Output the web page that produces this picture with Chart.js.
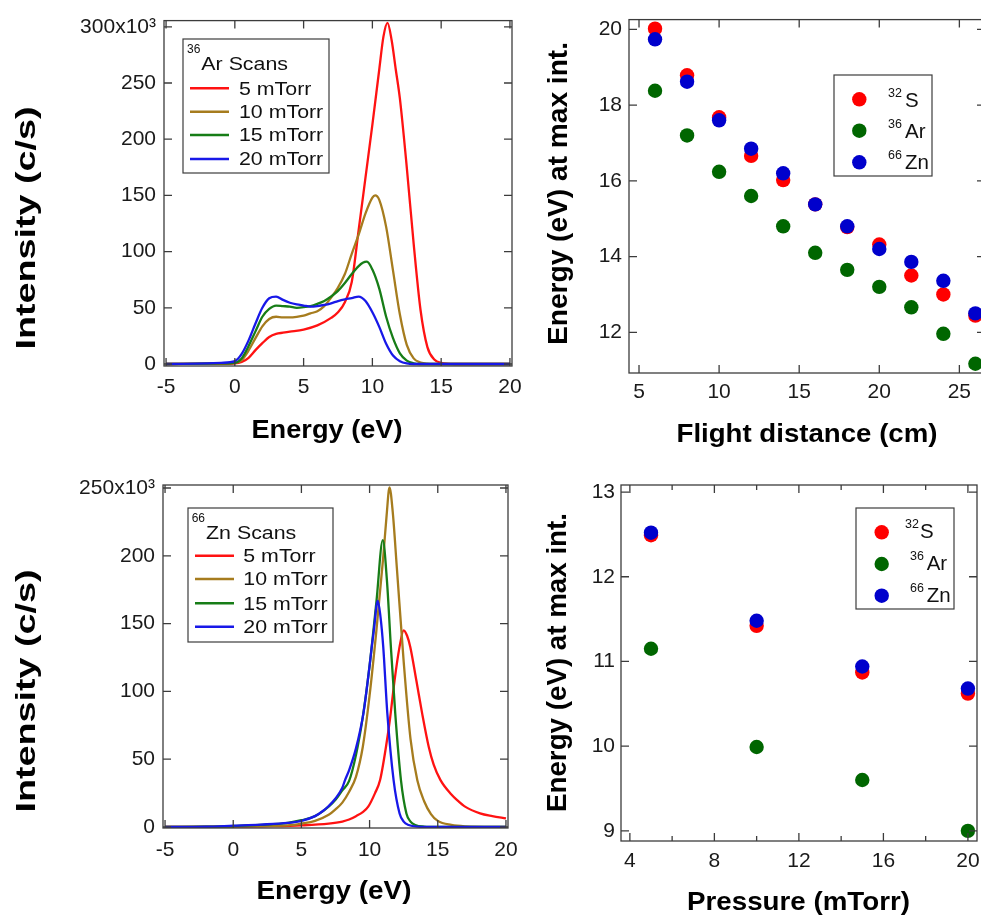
<!DOCTYPE html>
<html><head><meta charset="utf-8">
<script src="https://cdn.jsdelivr.net/npm/chart.js@4.4.1/dist/chart.umd.min.js"></script>
<style>
html,body{margin:0;padding:0;background:#fff;overflow:hidden;width:981px;height:918px;position:relative;}
canvas{position:absolute;left:0;top:0;}
</style></head><body>
<canvas id="cTL" width="1000" height="918"></canvas>
<canvas id="cTR" width="1000" height="918"></canvas>
<canvas id="cBL" width="1000" height="918"></canvas>
<canvas id="cBR" width="1000" height="918"></canvas>
<script>
// ---------------- DATA ----------------
const energyTicks = [-5, 0, 5, 10, 15, 20];
const arIntensityTicks = [0, 50, 100, 150, 200, 250, 300];
const znIntensityTicks = [0, 50, 100, 150, 200, 250];
const distanceTicks = [5, 10, 15, 20, 25];
const distEnergyTicks = [12, 14, 16, 18, 20];
const pressureTicks = [4, 8, 12, 16, 20];
const pressureMinorTicks = [6, 10, 14, 18];
const pressEnergyTicks = [9, 10, 11, 12, 13];

const pressureLabels = ['5 mTorr', '10 mTorr', '15 mTorr', '20 mTorr'];
const isotopeMass = ['32', '36', '66'];
const isotopeName = ['S', 'Ar', 'Zn'];

// 36Ar scans: energy (eV) and intensity (10^3 c/s)
const ar5E  = [-5, -1, 0, 0.5, 1, 1.5, 2, 2.5, 3, 3.5, 4, 5, 6, 7, 7.5, 8, 8.5, 9, 9.5, 10, 10.5, 10.8, 11.1, 11.4, 11.7, 12, 12.5, 13, 13.5, 14, 14.5, 15, 16, 20];
const ar5I  = [0, 0.2, 0.5, 1.8, 5.5, 12.3, 18.5, 24, 26.8, 27.8, 28.7, 30.6, 34.3, 41, 46, 55, 73, 119, 166, 213, 262, 291, 303.5, 288, 262, 236, 175, 107, 48, 15, 4, 1, 0, 0];
const ar10E = [-5, -1, 0, 0.5, 1, 1.5, 2, 2.5, 3, 3.5, 4, 4.5, 5, 5.5, 6, 6.5, 7, 7.5, 8, 8.5, 9, 9.5, 10, 10.2, 10.5, 11, 11.5, 12, 12.5, 13, 13.5, 14, 15, 20];
const ar10I = [0, 0.3, 1, 3.5, 12, 23, 33.5, 40, 42, 41.5, 41.5, 42, 43, 45, 47, 51.5, 59, 68, 80, 98, 115, 134, 148, 150, 146, 122, 83, 44, 17, 5, 1.3, 0.3, 0, 0];
const ar15E = [-5, -1, 0, 0.5, 1, 1.5, 2, 2.5, 3, 3.5, 4, 4.5, 5, 5.5, 6, 6.5, 7, 7.5, 8, 8.5, 9, 9.3, 9.6, 10, 10.5, 11, 11.5, 12, 12.5, 13, 13.5, 20];
const ar15I = [0, 0.5, 1, 5, 16, 29, 42, 49, 52, 51.5, 51, 50, 50.5, 51.5, 53.5, 56, 60, 65, 72, 80, 87, 90, 91, 84, 67, 42, 23, 9.5, 3, 0.6, 0, 0];
const ar20E = [-5, -2, -1, 0, 0.5, 1, 1.5, 2, 2.5, 3, 3.5, 4, 4.5, 5, 5.5, 6, 6.5, 7, 7.5, 8, 8.5, 9, 9.5, 10, 10.5, 11, 11.5, 12, 12.5, 13, 20];
const ar20I = [0, 0.5, 1, 2.5, 9, 21, 36, 50, 58.5, 60, 57, 54.5, 53, 52, 51, 51.5, 52.5, 54, 56, 57.5, 58.6, 60, 56, 46, 33, 18, 7.5, 2.5, 0.5, 0, 0];

// 66Zn scans: energy (eV) and intensity (10^3 c/s)
const zn5E  = [-5, 0, 3, 5, 7, 8, 8.5, 9, 9.5, 9.9, 10.4, 10.77, 11.2, 11.5, 11.83, 12.2, 12.5, 12.75, 12.98, 13.43, 13.85, 14.34, 14.7, 15.2, 16, 16.4, 17, 18.1, 19, 20];
const zn5I  = [0, 0.3, 0.6, 1.2, 2.5, 4, 5.5, 8, 11, 15, 25, 34.6, 59, 80, 108, 133, 145, 141, 133, 108, 84, 59, 46, 34.6, 24, 20, 15, 10, 8, 6.4];
const zn10E = [-5, 0, 2, 4, 5, 6, 7, 7.5, 8, 8.5, 9, 9.5, 10, 10.5, 11, 11.25, 11.46, 11.7, 12, 12.5, 13, 13.5, 14, 14.5, 15, 16, 17, 20];
const zn10I = [0, 0.3, 0.7, 1.2, 2.5, 4.5, 9, 13, 18, 26, 37, 59, 97, 145, 199, 230, 250.4, 232, 191, 122, 65, 34.5, 19, 9.5, 4.5, 1.5, 0.5, 0];
const zn15E = [-5, -2, 0, 2, 4, 5, 6, 7, 7.5, 8, 8.5, 9, 9.5, 10, 10.5, 10.97, 11.27, 11.56, 11.88, 12.3, 12.7, 13, 13.35, 14, 15, 20];
const zn15I = [0, 0.3, 0.7, 1.5, 3, 5, 8, 15, 20, 27, 34, 53, 81, 119, 166, 211.5, 182, 133, 84, 34.6, 10, 4, 1.5, 0.3, 0, 0];
const zn20E = [-5, -2, 0, 2, 4, 5, 6, 6.6, 7, 7.5, 8, 8.2, 8.5, 9, 9.55, 10, 10.16, 10.3, 10.6, 10.8, 11.0, 11.3, 11.76, 12.2, 12.5, 12.86, 13.5, 15, 20];
const zn20I = [0, 0.2, 1, 1.8, 3, 4.5, 8, 12, 15.5, 21, 29, 34.6, 42, 58, 84, 119, 133, 144, 167, 155, 133, 84, 34.6, 10, 4, 1.5, 0.3, 0, 0];

// Energy at max intensity vs flight distance (cm)
const flightDistance = [6, 8, 10, 12, 14, 16, 18, 20, 22, 24, 26];
const distS  = [20.02, 18.79, 17.68, 16.66, 16.02, 15.38, 14.78, 14.32, 13.5, 13.0, 12.44];
const distAr = [18.38, 17.2, 16.24, 15.6, 14.8, 14.1, 13.65, 13.2, 12.66, 11.96, 11.17];
const distZn = [19.74, 18.62, 17.6, 16.85, 16.2, 15.38, 14.8, 14.2, 13.86, 13.36, 12.5];

// Energy at max intensity vs pressure (mTorr)
const pressure = [5, 10, 15, 20];
const pressS  = [12.49, 11.42, 10.87, 10.62];
const pressAr = [11.15, 9.99, 9.6, 9.0];
const pressZn = [12.52, 11.48, 10.94, 10.68];

// ---------------- STYLE / HELPERS ----------------
const FONT = "'Liberation Sans', Arial, Helvetica, sans-serif";
const CW = 1000, CH = 918;
const lineColors = ['#ff1212', '#a67c1e', '#177d17', '#1818e8'];
const dotColors = ['#ff0000', '#006600', '#0000cc'];
const DOT_R = 7.2;

function drawStr(ctx, str, x, y, o) {
  ctx.save();
  ctx.translate(x, y);
  if (o.rot) ctx.rotate(o.rot);
  ctx.font = (o.bold ? 'bold ' : '') + o.size + 'px ' + FONT;
  const w = ctx.measureText(str).width;
  let sx = o.sx || 1;
  if (o.len) sx = o.len / w;
  ctx.scale(sx, 1);
  ctx.textAlign = o.align || 'left';
  ctx.textBaseline = o.baseline || 'alphabetic';
  ctx.fillStyle = o.color || '#111';
  ctx.fillText(str, 0, 0);
  ctx.restore();
  return w * sx;
}

function lineSets(pairs) {
  return pairs.map(([e, v], i) => ({
    label: pressureLabels[i],
    data: e.map((x, k) => ({x: x, y: v[k]})),
    borderColor: lineColors[i], backgroundColor: lineColors[i],
    borderWidth: 2.3, pointRadius: 0, fill: false,
    cubicInterpolationMode: 'monotone', order: 3 - i
  }));
}
function dotSets(xs, series) {
  return series.map((v, i) => ({
    label: isotopeName[i],
    data: xs.map((x, k) => ({x: x, y: v[k]})),
    backgroundColor: dotColors[i], borderColor: dotColors[i], borderWidth: 0,
    pointRadius: DOT_R, pointHoverRadius: DOT_R, order: 2 - i
  }));
}

const framePlugin = {
  id: 'frame',
  afterDatasetsDraw(chart, args, o) {
    const {ctx, chartArea: a, scales} = chart;
    const x = scales.x, y = scales.y;
    ctx.save();
    ctx.strokeStyle = '#3c3c3c';
    ctx.lineWidth = 1.3;
    ctx.strokeRect(a.left, a.top, a.right - a.left, a.bottom - a.top);
    ctx.beginPath();
    const L = 8, Lm = 5;
    const vx = (v, len) => { const p = x.getPixelForValue(v); ctx.moveTo(p, a.bottom); ctx.lineTo(p, a.bottom - len); ctx.moveTo(p, a.top); ctx.lineTo(p, a.top + len); };
    const vy = (v, len) => { const p = y.getPixelForValue(v); ctx.moveTo(a.left, p); ctx.lineTo(a.left + len, p); ctx.moveTo(a.right, p); ctx.lineTo(a.right - len, p); };
    x.ticks.forEach(t => vx(t.value, L));
    (o.xMinor || []).forEach(v => vx(v, Lm));
    y.ticks.forEach(t => vy(t.value, L));
    ctx.stroke();
    ctx.restore();
  }
};

const legendPlugin = {
  id: 'boxLegend',
  afterDatasetsDraw(chart, args, o) {
    const ctx = chart.ctx;
    ctx.save();
    const [bx0, by0, bx1, by1] = o.box;
    ctx.fillStyle = '#fff';
    ctx.fillRect(bx0, by0, bx1 - bx0, by1 - by0);
    ctx.strokeStyle = '#3c3c3c';
    ctx.lineWidth = 1.2;
    ctx.strokeRect(bx0, by0, bx1 - bx0, by1 - by0);
    if (o.kind === 'line') {
      const w = drawStr(ctx, o.titleSup, o.titleX, o.titleY - 17, {size: 12});
      drawStr(ctx, o.titleMain, o.titleX + w + 1, o.titleY, {size: 17.5, sx: 1.22});
      chart.data.datasets.forEach((d, i) => {
        const cy = o.rowY[i];
        ctx.strokeStyle = d.borderColor;
        ctx.lineWidth = 2.5;
        ctx.beginPath(); ctx.moveTo(o.lineX[0], cy); ctx.lineTo(o.lineX[1], cy); ctx.stroke();
        drawStr(ctx, d.label, o.textX, cy + 6.3, {size: 17.5, sx: 1.22});
      });
    } else {
      chart.data.datasets.forEach((d, i) => {
        ctx.fillStyle = d.backgroundColor;
        ctx.beginPath(); ctx.arc(o.markX, o.rowY[i], DOT_R, 0, Math.PI * 2); ctx.fill();
        drawStr(ctx, isotopeMass[i], o.supX[i], o.base[i] - 10, {size: 12.5});
        drawStr(ctx, d.label, o.mainX[i], o.base[i], {size: 20.5});
      });
    }
    ctx.restore();
  }
};

const titlePlugin = {
  id: 'axisTitles',
  afterDraw(chart, args, o) {
    const ctx = chart.ctx;
    const t = o.x;
    drawStr(ctx, t.text, t.cx, t.cy, {size: t.size, bold: true, len: t.len, align: 'center', baseline: 'middle', color: '#000'});
    const u = o.y;
    drawStr(ctx, u.text, u.cx, u.cy, {size: u.size, bold: true, len: u.len, align: 'center', baseline: 'middle', color: '#000', rot: -Math.PI / 2});
  }
};

function makeChart(id, type, c) {
  const yW = 110, xH = 60;
  const tickFont = {family: FONT, size: 21};
  return new Chart(document.getElementById(id), {
    type: type,
    data: {datasets: c.datasets},
    options: {
      responsive: false, animation: false, devicePixelRatio: 1,
      events: [],
      layout: {padding: {left: c.area.l - yW, top: c.area.t, right: CW - c.area.r, bottom: CH - c.area.b - xH}},
      scales: {
        x: {
          type: 'linear', min: c.xr[0], max: c.xr[1],
          afterFit(s) { s.height = xH; },
          afterBuildTicks(s) { s.ticks = c.xTicks.map(v => ({value: v})); },
          grid: {display: false, drawTicks: false}, border: {display: false},
          ticks: {padding: c.xPad, font: tickFont, color: '#1a1a1a', maxRotation: 0, autoSkip: false,
                  callback: v => String(v)}
        },
        y: {
          type: 'linear', min: c.yr[0], max: c.yr[1],
          afterFit(s) { s.width = yW; },
          afterBuildTicks(s) { s.ticks = c.yTicks.map(v => ({value: v})); },
          grid: {display: false, drawTicks: false}, border: {display: false},
          ticks: {padding: c.yPad, font: tickFont, color: '#1a1a1a', autoSkip: false,
                  callback: v => (c.topLabel && v === c.yTicks[c.yTicks.length - 1]) ? v + 'x10\u00B3' : String(v)}
        }
      },
      plugins: {
        legend: {display: false}, tooltip: {enabled: false},
        frame: {xMinor: c.xMinor || []},
        boxLegend: c.legend,
        axisTitles: c.titles
      }
    },
    plugins: [framePlugin, legendPlugin, titlePlugin]
  });
}

// ---------------- CHARTS ----------------
makeChart('cTL', 'line', {
  area: {l: 164, t: 20, r: 512, b: 366},
  xr: [-5.15, 20.15], yr: [-1.8, 305.5],
  xTicks: energyTicks, yTicks: arIntensityTicks, topLabel: true,
  xPad: 9, yPad: 8,
  datasets: lineSets([[ar5E, ar5I], [ar10E, ar10I], [ar15E, ar15I], [ar20E, ar20I]]),
  legend: {kind: 'line', box: [183, 39, 329, 173], titleSup: '36', titleMain: 'Ar Scans', titleX: 187, titleY: 70,
           rowY: [88.3, 111.7, 135, 159], lineX: [190, 229], textX: 239},
  titles: {x: {text: 'Energy (eV)', cx: 327, cy: 431, size: 25, len: 151},
           y: {text: 'Intensity (c/s)', cx: 28, cy: 228, size: 27, len: 243}}
});

makeChart('cBL', 'line', {
  area: {l: 163, t: 485, r: 508, b: 828},
  xr: [-5.15, 20.15], yr: [-0.74, 252.2],
  xTicks: energyTicks, yTicks: znIntensityTicks, topLabel: true,
  xPad: 10, yPad: 8,
  datasets: lineSets([[zn5E, zn5I], [zn10E, zn10I], [zn15E, zn15I], [zn20E, zn20I]]),
  legend: {kind: 'line', box: [188, 508, 333, 642], titleSup: '66', titleMain: 'Zn Scans', titleX: 191.7, titleY: 539,
           rowY: [555.7, 579, 603.3, 626.7], lineX: [195, 234], textX: 243.3},
  titles: {x: {text: 'Energy (eV)', cx: 334, cy: 892, size: 25, len: 155},
           y: {text: 'Intensity (c/s)', cx: 28, cy: 691, size: 27, len: 243}}
});

makeChart('cTR', 'scatter', {
  area: {l: 629, t: 17, r: 985, b: 373},
  xr: [4.375, 26.6], yr: [10.925, 20.26],
  xTicks: distanceTicks, yTicks: distEnergyTicks,
  xPad: 7, yPad: 7,
  datasets: dotSets(flightDistance, [distS, distAr, distZn]),
  legend: {kind: 'dot', box: [834, 75, 932, 176], markX: 859.3, rowY: [99.3, 130.7, 162.3],
           supX: [888, 888, 888], mainX: [905, 905, 905], base: [106.7, 138.3, 169.3]},
  titles: {x: {text: 'Flight distance (cm)', cx: 807, cy: 435.5, size: 25, len: 261},
           y: {text: 'Energy (eV) at max int.', cx: 560, cy: 193.5, size: 27, len: 303}}
});

makeChart('cBR', 'scatter', {
  area: {l: 621, t: 485, r: 977, b: 841},
  xr: [3.58, 20.43], yr: [8.88, 13.083],
  xTicks: pressureTicks, xMinor: pressureMinorTicks, yTicks: pressEnergyTicks,
  xPad: 8, yPad: 6,
  datasets: dotSets(pressure, [pressS, pressAr, pressZn]),
  legend: {kind: 'dot', box: [856, 508, 954, 609], markX: 881.7, rowY: [532.3, 564, 595.7],
           supX: [905, 910, 910], mainX: [920, 926.7, 926.7], base: [538.3, 570, 601.7]},
  titles: {x: {text: 'Pressure (mTorr)', cx: 798.5, cy: 903.5, size: 25, len: 223},
           y: {text: 'Energy (eV) at max int.', cx: 559, cy: 662.5, size: 27, len: 299}}
});
</script>
</body></html>
